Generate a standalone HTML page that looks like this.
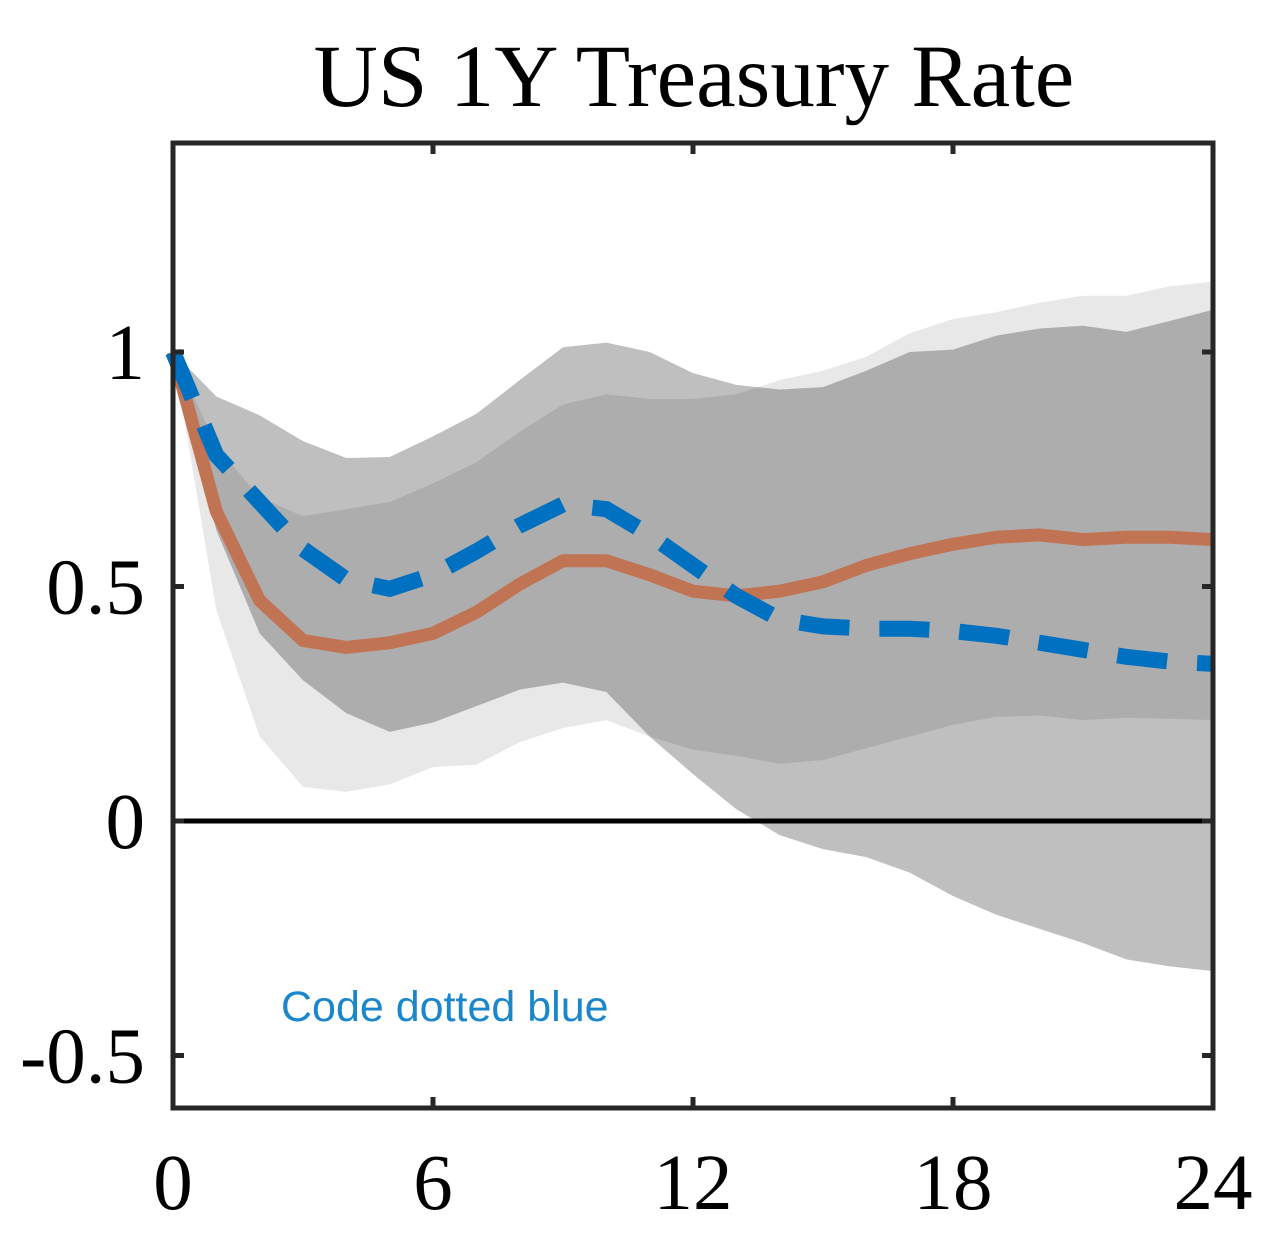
<!DOCTYPE html>
<html><head><meta charset="utf-8"><style>
html,body{margin:0;padding:0;background:#fff;}
svg{display:block;}
</style></head><body>
<svg id="chart" width="1283" height="1239" viewBox="0 0 1283 1239">
<text x="694" y="106" text-anchor="middle" font-family="Liberation Serif, serif" font-size="89" fill="#000">US 1Y Treasury Rate</text>
<g id="bands"></g>
<g id="lines"></g>
<g id="axes"></g>
<text x="281" y="1021" font-family="Liberation Sans, DejaVu Sans, sans-serif" font-size="43" fill="#1a86cc">Code dotted blue</text>
</svg>
<script>
const horizons = [0,1,2,3,4,5,6,7,8,9,10,11,12,13,14,15,16,17,18,19,20,21,22,23,24];
const band1Upper = [1,0.905,0.865,0.81,0.774,0.776,0.82,0.868,0.94,1.01,1.02,1.0,0.955,0.93,0.92,0.925,0.96,1.0,1.005,1.035,1.05,1.056,1.043,1.066,1.09];
const band1Lower = [1,0.62,0.4,0.3,0.23,0.19,0.21,0.245,0.28,0.295,0.275,0.18,0.1,0.025,-0.03,-0.06,-0.077,-0.11,-0.16,-0.2,-0.23,-0.26,-0.295,-0.31,-0.32];
const band2Upper = [1,0.8,0.69,0.65,0.665,0.68,0.72,0.765,0.83,0.888,0.91,0.9,0.9,0.91,0.94,0.96,0.99,1.04,1.07,1.085,1.105,1.12,1.12,1.14,1.15];
const band2Lower = [1,0.45,0.18,0.073,0.062,0.078,0.115,0.12,0.168,0.198,0.215,0.18,0.152,0.139,0.122,0.13,0.155,0.18,0.205,0.222,0.225,0.215,0.22,0.218,0.215];
const codeIrf = [1,0.66,0.47,0.385,0.37,0.38,0.4,0.445,0.505,0.555,0.555,0.525,0.49,0.48,0.49,0.51,0.545,0.57,0.59,0.605,0.61,0.6,0.605,0.605,0.6];
const codeDottedBlue = [1,0.78,0.68,0.58,0.515,0.495,0.525,0.575,0.63,0.675,0.665,0.61,0.545,0.48,0.43,0.415,0.41,0.41,0.405,0.395,0.38,0.365,0.35,0.34,0.335];
const xTicks = [0,6,12,18,24];
const yTicks = [-0.5,0,0.5,1];
const yTickLabels = ["-0.5","0","0.5","1"];

const NS="http://www.w3.org/2000/svg";
const L=173,R=1213,T=143,B=1108;
const xs=v=>L+(v-0)/24*(R-L);
const ys=v=>821-v*469;
function mk(tag,attrs,parent){const e=document.createElementNS(NS,tag);for(const k in attrs)e.setAttribute(k,attrs[k]);parent.appendChild(e);return e;}
function bandPts(up,lo){const a=horizons.map((h,i)=>xs(h)+','+ys(up[i]));const b=horizons.map((h,i)=>xs(h)+','+ys(lo[i])).reverse();return a.concat(b).join(' ');}
const bands=document.getElementById('bands');
const b1=mk('polygon',{points:bandPts(band1Upper,band1Lower),fill:'#bfbfbf'},bands);


const b2=mk('polygon',{points:bandPts(band2Upper,band2Lower),fill:'#000','fill-opacity':'0.09'},bands);


const lines=document.getElementById('lines');
const zl=mk('line',{x1:L,x2:R,y1:ys(0),y2:ys(0),stroke:'#000','stroke-width':5},lines);


const pl=a=>horizons.map((h,i)=>xs(h)+','+ys(a[i])).join(' ');
const o=mk('polyline',{points:pl(codeIrf),fill:'none',stroke:'#c07454','stroke-width':13,'stroke-linejoin':'round'},lines);


const bl=mk('polyline',{points:pl(codeDottedBlue),fill:'none',stroke:'#0070c0','stroke-width':16,'stroke-dasharray':'50 30'},lines);


const axes=document.getElementById('axes');
const box=mk('rect',{x:L,y:T,width:R-L,height:B-T,fill:'none',stroke:'#262626','stroke-width':5},axes);


xTicks.forEach(t=>{
  const x=xs(t);
  mk('line',{x1:x,x2:x,y1:B,y2:B-11,stroke:'#262626','stroke-width':5},axes);
  mk('line',{x1:x,x2:x,y1:T,y2:T+11,stroke:'#262626','stroke-width':5},axes);
  const tx=mk('text',{x:x,y:1209,'text-anchor':'middle','font-family':'Liberation Serif, serif','font-size':79,fill:'#000'},axes);
  tx.textContent=t;
  
  
});
yTicks.forEach((t,i)=>{
  const y=ys(t);
  mk('line',{x1:L,x2:L+11,y1:y,y2:y,stroke:'#262626','stroke-width':5},axes);
  mk('line',{x1:R,x2:R-11,y1:y,y2:y,stroke:'#262626','stroke-width':5},axes);
  const tx=mk('text',{x:145,y:y+27,'text-anchor':'end','font-family':'Liberation Serif, serif','font-size':79,fill:'#000'},axes);
  tx.textContent=yTickLabels[i];
  
  
});
</script>
</body></html>
